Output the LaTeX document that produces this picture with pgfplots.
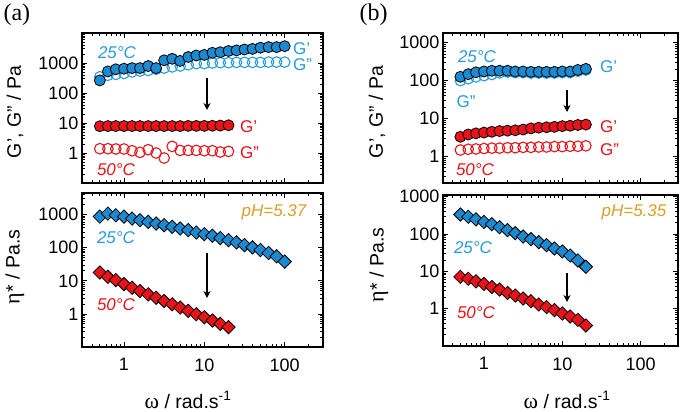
\documentclass[border=0pt]{standalone}
\usepackage{pgfplots}
\pgfplotsset{compat=1.18}
\usetikzlibrary{arrows.meta}
\usepackage{fontspec}
\setmainfont{Liberation Sans}
\newfontfamily\serif{Liberation Serif}
\definecolor{cblue}{RGB}{27,138,208}
\definecolor{tblue}{RGB}{40,155,220}
\definecolor{cred}{RGB}{232,20,25}
\definecolor{cgold}{RGB}{215,160,40}
\tikzset{
  fcirc/.style={mark=*, only marks, mark size=5.5pt, mark options={fill=#1, draw=black, line width=0.8pt}},
  ocirc/.style={mark=o, only marks, mark size=5.3pt, mark options={draw=#1, fill=white, line width=1.1pt}},
  fdiam/.style={mark=square*, only marks, mark size=4.7pt, mark options={rotate=45, fill=#1, draw=black, line width=0.8pt}},
  ann/.style={font=\fontsize{17}{19}\selectfont\itshape},
  lab/.style={font=\fontsize{17}{19}\selectfont},
  alab/.style={font=\fontsize{19.5}{21}\selectfont},
  arr/.style={-{Stealth[length=7pt,width=7pt]}, line width=1.4pt}
}
\begin{document}
\begin{tikzpicture}[x=1pt,y=1pt]
\path[use as bounding box] (0,0) rectangle (685,412);
% ---------- (a) top
\begin{axis}[xmode=log, ymode=log, scale only axis,
    xmin=0.3, xmax=300,
    axis line style={line width=1.7pt},
    major tick length=5pt, minor tick length=3pt,
    tick align=inside, xtick pos=both, ytick pos=both,
    xticklabel pos=lower, yticklabel pos=left,
    xtick={0.1,1,10,100,1000}, xticklabels={},
    ytick={0.01,0.1,1,10,100,1000,10000},
    yticklabels={,,1,10,100,1000,},
    tick label style={font=\fontsize{18}{20}\selectfont},
    tick style={black, line width=0.8pt},
    clip=false,
  at={(82pt,229pt)}, anchor=south west, width=241pt, height=150pt,
  ymin=0.1, ymax=10000]
\addplot[ocirc=tblue] coordinates {(0.5,347)(0.63,389)(0.79,417)(1,447)(1.26,501)(1.58,537)(2,562)(2.51,617)(3.16,676)(3.98,741)(5,794)(6.3,871)(7.94,955)(10,955)(12.6,1000)(15.8,1023)(20,1023)(25.1,1047)(31.6,1047)(39.8,1047)(50,1047)(63,1072)(79.4,1072)(100,1072)};
\addplot[fcirc=cblue] coordinates {(0.5,263)(0.63,525)(0.79,617)(1,646)(1.26,676)(1.58,676)(2,794)(2.51,676)(3.16,1230)(3.98,1380)(5,1175)(6.3,1585)(7.94,1778)(10,1862)(12.6,2188)(15.8,2291)(20,2512)(25.1,2630)(31.6,2818)(39.8,2951)(50,3236)(63,3388)(79.4,3388)(100,3631)};
\addplot[fcirc=cred] coordinates {(0.5,7.8)(0.63,7.9)(0.79,7.9)(1,7.9)(1.26,7.9)(1.58,7.9)(2,7.9)(2.51,7.9)(3.16,7.9)(3.98,7.9)(5,7.9)(6.3,8.0)(7.94,8.0)(10,8.0)(12.6,8.1)(15.8,8.2)(20,8.4)};
\addplot[ocirc=cred] coordinates {(0.5,1.39)(0.63,1.39)(0.79,1.36)(1,1.36)(1.26,1.19)(1.58,1.05)(2,1.29)(2.51,1.0)(3.16,0.68)(3.98,1.66)(5,1.22)(6.3,1.22)(7.94,1.22)(10,1.19)(12.6,1.19)(15.8,1.08)(20,1.13)};
\end{axis}
% ---------- (a) bottom
\begin{axis}[xmode=log, ymode=log, scale only axis,
    xmin=0.3, xmax=300,
    axis line style={line width=1.7pt},
    major tick length=5pt, minor tick length=3pt,
    tick align=inside, xtick pos=both, ytick pos=both,
    xticklabel pos=lower, yticklabel pos=left,
    xtick={0.1,1,10,100,1000}, xticklabels={,1,10,100,},
    ytick={0.01,0.1,1,10,100,1000,10000},
    yticklabels={,,1,10,100,1000,},
    tick label style={font=\fontsize{18}{20}\selectfont},
    xticklabel style={yshift=-8pt},
    tick style={black, line width=0.8pt},
    clip=false,
  at={(82pt,65pt)}, anchor=south west, width=241pt, height=154pt,
  ymin=0.1, ymax=4500]
\addplot[fdiam=cblue] coordinates {(0.5,871)(0.63,1072)(0.79,955)(1,871)(1.26,759)(1.58,676)(2,603)(2.51,537)(3.16,479)(3.98,427)(5,380)(6.3,339)(7.94,288)(10,257)(12.6,229)(15.8,195)(20,170)(25.1,145)(31.6,120)(39.8,102)(50,85.1)(63,69.2)(79.4,55.0)(100,38.0)};
\addplot[fdiam=cred] coordinates {(0.5,17.8)(0.63,13.2)(0.79,10.5)(1,7.94)(1.26,6.17)(1.58,4.90)(2,3.89)(2.51,3.09)(3.16,2.45)(3.98,1.95)(5,1.55)(6.3,1.23)(7.94,0.977)(10,0.794)(12.6,0.631)(15.8,0.501)(20,0.398)};
\end{axis}
% ---------- (b) top
\begin{axis}[xmode=log, ymode=log, scale only axis,
    xmin=0.3, xmax=300,
    axis line style={line width=1.7pt},
    major tick length=5pt, minor tick length=3pt,
    tick align=inside, xtick pos=both, ytick pos=both,
    xticklabel pos=lower, yticklabel pos=left,
    xtick={0.1,1,10,100,1000}, xticklabels={},
    ytick={0.01,0.1,1,10,100,1000,10000},
    yticklabels={,,1,10,100,1000,},
    tick label style={font=\fontsize{18}{20}\selectfont},
    tick style={black, line width=0.8pt},
    clip=false,
  at={(443pt,229pt)}, anchor=south west, width=235pt, height=150pt,
  ymin=0.2, ymax=1800]
\addplot[ocirc=tblue] coordinates {(0.5,100)(0.63,112)(0.79,125)(1,135)(1.26,145)(1.58,160)(2,168)(2.51,162)(3.16,162)(3.98,158)(5,158)(6.3,158)(7.94,158)(10,162)(12.6,162)(15.8,177)(20,190)};
\addplot[fcirc=cblue] coordinates {(0.5,126)(0.63,148)(0.79,166)(1,174)(1.26,182)(1.58,182)(2,182)(2.51,174)(3.16,174)(3.98,170)(5,170)(6.3,170)(7.94,170)(10,174)(12.6,174)(15.8,191)(20,204)};
\addplot[fcirc=cred] coordinates {(0.5,3.31)(0.63,3.80)(0.79,4.07)(1,4.27)(1.26,4.47)(1.58,4.68)(2,4.79)(2.51,4.90)(3.16,5.13)(3.98,5.50)(5,5.75)(6.3,5.89)(7.94,6.03)(10,6.31)(12.6,6.46)(15.8,6.76)(20,6.92)};
\addplot[ocirc=cred] coordinates {(0.5,1.48)(0.63,1.55)(0.79,1.58)(1,1.62)(1.26,1.66)(1.58,1.66)(2,1.70)(2.51,1.70)(3.16,1.74)(3.98,1.74)(5,1.78)(6.3,1.78)(7.94,1.82)(10,1.82)(12.6,1.86)(15.8,1.86)(20,1.91)};
\end{axis}
% ---------- (b) bottom
\begin{axis}[xmode=log, ymode=log, scale only axis,
    xmin=0.3, xmax=300,
    axis line style={line width=1.7pt},
    major tick length=5pt, minor tick length=3pt,
    tick align=inside, xtick pos=both, ytick pos=both,
    xticklabel pos=lower, yticklabel pos=left,
    xtick={0.1,1,10,100,1000}, xticklabels={,1,10,100,},
    ytick={0.01,0.1,1,10,100,1000,10000},
    yticklabels={,,1,10,100,1000,},
    tick label style={font=\fontsize{18}{20}\selectfont},
    xticklabel style={yshift=-8pt},
    tick style={black, line width=0.8pt},
    clip=false,
  at={(443pt,66pt)}, anchor=south west, width=235pt, height=151pt,
  ymin=0.1, ymax=1100]
\addplot[fdiam=cblue] coordinates {(0.5,331)(0.63,288)(0.79,245)(1,209)(1.26,182)(1.58,151)(2,126)(2.51,105)(3.16,85.1)(3.98,72.4)(5,60.3)(6.3,50.1)(7.94,40.7)(10,33.9)(12.6,26.3)(15.8,19.5)(20,13.2)};
\addplot[fdiam=cred] coordinates {(0.5,7.08)(0.63,6.31)(0.79,5.37)(1,4.57)(1.26,3.80)(1.58,3.24)(2,2.63)(2.51,2.24)(3.16,1.86)(3.98,1.58)(5,1.29)(6.3,1.10)(7.94,0.912)(10,0.741)(12.6,0.617)(15.8,0.501)(20,0.355)};
\end{axis}
% ---------- labels
\node[font=\fontsize{24}{26}\selectfont\serif, anchor=west] at (0,397) {(a)};
\node[font=\fontsize{24}{26}\selectfont\serif, anchor=west] at (356,397) {(b)};
\node[alab, rotate=90] at (15,300) {G', G'' / Pa};
\node[alab, rotate=90] at (15,145) {{\serif\fontsize{22}{22}\selectfont η}* / Pa.s};
\node[alab, rotate=90] at (377,300) {G', G'' / Pa};
\node[alab, rotate=90] at (379,147) {{\serif\fontsize{22}{22}\selectfont η}* / Pa.s};
\node[alab] at (188,12) {{\serif\fontsize{22}{22}\selectfont ω} / rad.s\textsuperscript{-1}};
\node[alab] at (567,12) {{\serif\fontsize{22}{22}\selectfont ω} / rad.s\textsuperscript{-1}};
% ---------- annotations (a)
\node[ann, text=tblue] at (117,359) {25°C};
\node[lab, text=tblue, anchor=west, inner sep=0pt] at (293,363) {G'};
\node[lab, text=tblue, anchor=west, inner sep=0pt] at (293,347) {G''};
\node[lab, text=cred, anchor=west, inner sep=0pt] at (240,285) {G'};
\node[lab, text=cred, anchor=west, inner sep=0pt] at (240,259) {G''};
\node[ann, text=cred] at (116,242) {50°C};
\draw[arr] (207,334) -- (207,302);
\node[ann, text=cgold] at (274,200) {pH=5.37};
\node[ann, text=tblue] at (116,174) {25°C};
\node[ann, text=cred] at (116,107) {50°C};
\draw[arr] (207,159) -- (207,114);
% ---------- annotations (b)
\node[ann, text=tblue] at (477,355) {25°C};
\node[lab, text=tblue, anchor=west, inner sep=0pt] at (600,345) {G'};
\node[lab, text=tblue] at (466,310) {G''};
\draw[arr] (567,322) -- (567,300);
\node[lab, text=cred, anchor=west, inner sep=0pt] at (600,285) {G'};
\node[lab, text=cred, anchor=west, inner sep=0pt] at (600,262) {G''};
\node[ann, text=cred] at (475,242) {50°C};
\node[ann, text=cgold] at (634,200) {pH=5.35};
\node[ann, text=tblue] at (473,164) {25°C};
\node[ann, text=cred] at (476,99) {50°C};
\draw[arr] (567,139) -- (567,110);
\end{tikzpicture}
\end{document}
